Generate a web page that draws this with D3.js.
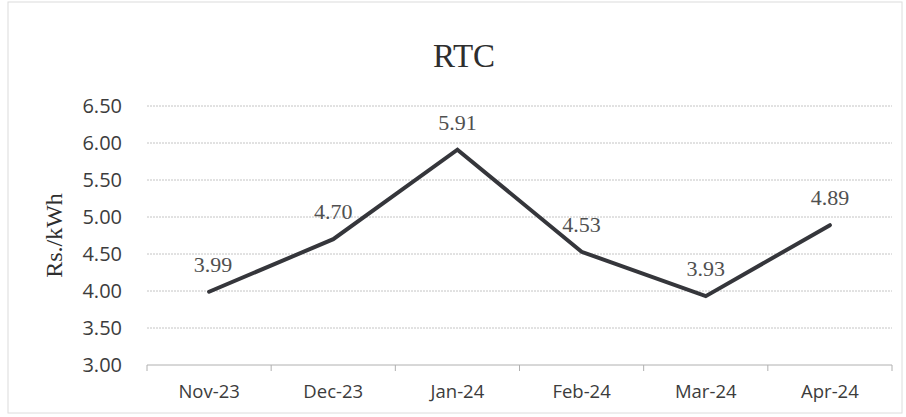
<!DOCTYPE html>
<html>
<head>
<meta charset="utf-8">
<script src="https://cdn.jsdelivr.net/npm/d3@7"></script>
<style>
  body { margin: 0; background: #fff; }
</style>
</head>
<body>
<svg id="chart"></svg>
<script>
var months = ["Nov-23", "Dec-23", "Jan-24", "Feb-24", "Mar-24", "Apr-24"];
var rtcPrice = [3.99, 4.70, 5.91, 4.53, 3.93, 4.89];
var yTicks = [3.00, 3.50, 4.00, 4.50, 5.00, 5.50, 6.00, 6.50];

var width = 906,
    height = 417;
var margin = {top: 106, right: 14, bottom: 52, left: 147};

var sansFont = "'Open Sans', 'Liberation Sans', sans-serif";
var serifFont = "'Liberation Serif', 'DejaVu Serif', serif";

var svg = d3.select("#chart")
  .attr("width", width)
  .attr("height", height);

// faint scanned frame
svg.append("rect")
  .attr("x", 8).attr("y", 2)
  .attr("width", width - 12).attr("height", height - 6)
  .attr("fill", "none")
  .attr("stroke", "#dcdcdc")
  .attr("stroke-width", 1);

var x = d3.scaleBand()
  .domain(months)
  .range([margin.left, width - margin.right]);

var y = d3.scaleLinear()
  .domain([3, 6.5])
  .range([height - margin.bottom, margin.top]);

// gridlines
svg.append("g")
  .selectAll("line")
  .data(yTicks)
  .enter().append("line")
  .attr("x1", margin.left)
  .attr("x2", width - margin.right)
  .attr("y1", function(d) { return y(d); })
  .attr("y2", function(d) { return y(d); })
  .attr("stroke", function(d) { return d == 3 ? "#b0b0b0" : "#c4c4c4"; })
  .attr("stroke-width", 1)
  .attr("stroke-dasharray", function(d) { return d == 3 ? null : "2,1"; });

// x axis
var xAxis = svg.append("g")
  .attr("transform", "translate(0," + y(3) + ")")
  .call(d3.axisBottom(x).tickSize(0));
xAxis.select(".domain").remove();
xAxis.selectAll("text")
  .attr("dy", null)
  .attr("y", 33)
  .style("font-family", sansFont)
  .style("font-size", "18.5px")
  .attr("fill", "#3c3c3c");

// small category ticks
svg.append("g")
  .selectAll("line")
  .data(months.concat(["end"]))
  .enter().append("line")
  .attr("x1", function(d, i) { return margin.left + i * x.bandwidth(); })
  .attr("x2", function(d, i) { return margin.left + i * x.bandwidth(); })
  .attr("y1", y(3))
  .attr("y2", y(3) + 6)
  .attr("stroke", "#b0b0b0");

// y axis labels
var yAxis = svg.append("g")
  .attr("transform", "translate(" + margin.left + ",0)")
  .call(d3.axisLeft(y).tickValues(yTicks).tickFormat(d3.format(".2f")).tickSize(0).tickPadding(25));
yAxis.select(".domain").remove();
yAxis.selectAll("text")
  .style("font-family", sansFont)
  .style("font-size", "20px")
  .attr("fill", "#3c3c3c");

// title
svg.append("text")
  .attr("x", 464)
  .attr("y", 67)
  .attr("text-anchor", "middle")
  .style("font-family", serifFont)
  .style("font-size", "33px")
  .attr("fill", "#2e2e2e")
  .text("RTC");

// y axis title
svg.append("text")
  .attr("transform", "translate(62," + ((y(3) + y(6.5)) / 2) + ") rotate(-90)")
  .attr("text-anchor", "middle")
  .style("font-family", serifFont)
  .style("font-size", "24px")
  .attr("fill", "#2e2e2e")
  .text("Rs./kWh");

// the line
var line = d3.line()
  .x(function(d, i) { return x(months[i]) + x.bandwidth() / 2; })
  .y(function(d) { return y(d); });

svg.append("path")
  .datum(rtcPrice)
  .attr("d", line)
  .attr("fill", "none")
  .attr("stroke", "#35363b")
  .attr("stroke-width", 4)
  .attr("stroke-linejoin", "miter")
  .attr("stroke-linecap", "round");

// data labels
svg.append("g")
  .selectAll("text")
  .data(rtcPrice)
  .enter().append("text")
  .attr("x", function(d, i) { return x(months[i]) + x.bandwidth() / 2 + (i == 0 ? 4 : 0); })
  .attr("y", function(d) { return y(d) - 20; })
  .attr("text-anchor", "middle")
  .style("font-family", serifFont)
  .style("font-size", "22px")
  .attr("fill", "#505050")
  .text(function(d) { return d.toFixed(2); });
</script>
</body>
</html>
